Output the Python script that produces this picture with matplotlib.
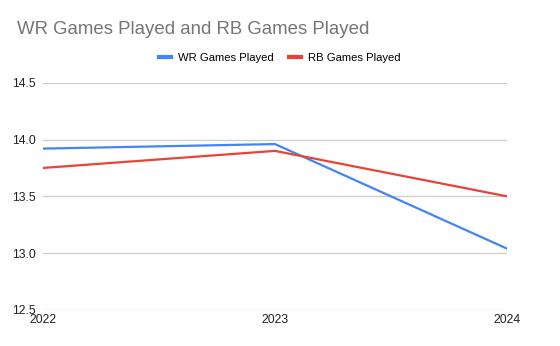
import matplotlib.pyplot as plt

# data
years = [2022, 2023, 2024]
wr_games = [13.92, 13.96, 13.04]
rb_games = [13.75, 13.90, 13.50]
y_ticks = [12.5, 13.0, 13.5, 14.0, 14.5]

plt.rcParams['font.family'] = ['Liberation Sans', 'DejaVu Sans']

fig = plt.figure(figsize=(5.6, 3.46), dpi=100)
ax = fig.add_axes([43 / 560, 1 - 310 / 346, 464 / 560, 227.3 / 346])

ax.plot(years, wr_games, color='#4285F4', linewidth=1.6, label='WR Games Played')
ax.plot(years, rb_games, color='#EA4335', linewidth=1.6, label='RB Games Played')

ax.set_xlim(2022, 2024)
ax.set_ylim(12.5, 14.5)
ax.set_xticks(years)
ax.set_xticklabels([str(y) for y in years])
ax.set_yticks(y_ticks)
ax.set_yticklabels([f'{v:.1f}' for v in y_ticks])
ax.grid(axis='y', color='#cccccc', linewidth=0.9)
ax.set_axisbelow(True)
for s in ax.spines.values():
    s.set_visible(False)
ax.tick_params(axis='both', length=0, labelsize=8.8, colors='#222222')
ax.tick_params(axis='x', pad=3)
ax.tick_params(axis='y', pad=5)

fig.text(17 / 560, 1 - 29 / 346, 'WR Games Played and RB Games Played',
         fontsize=13.4, color='#757575', va='center', ha='left')

fig.legend(loc='center', bbox_to_anchor=(280 / 560, 1 - 58 / 346), ncol=2,
           frameon=False, fontsize=8.1, handlelength=1.07, handletextpad=0.62,
           columnspacing=1.33)
for line in fig.legends[0].get_lines():
    line.set_linewidth(3)

fig.savefig('out.png', dpi=100)
